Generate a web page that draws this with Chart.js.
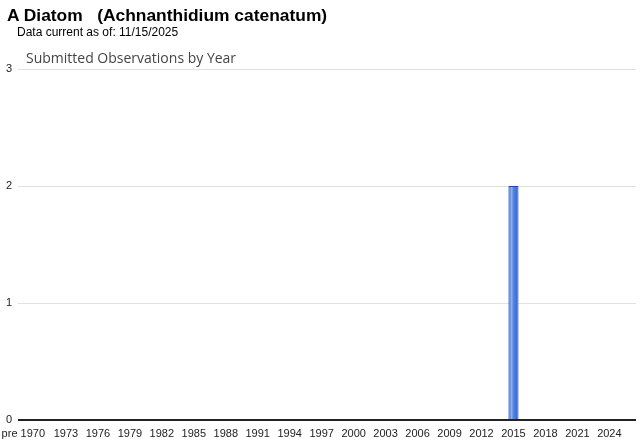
<!DOCTYPE html>
<html>
<head>
<meta charset="utf-8">
<script src="https://cdn.jsdelivr.net/npm/chart.js@4"></script>
<style>
  body { margin: 0; background: #fff; }
  #wrap { position: relative; width: 640px; height: 442px; }
  #chart { position: absolute; left: 0; top: 0; }
  .title { position: absolute; left: 7px; top: 5px; font: bold 17.4px "Liberation Sans", Arial, sans-serif; color: #000; white-space: pre; }
  .asof { position: absolute; left: 17px; top: 25px; font: 12px "Liberation Sans", Arial, sans-serif; color: #000; }
  .sub { position: absolute; left: 26px; top: 48px; font: 14px "Open Sans", "Noto Sans", sans-serif; color: #444; }
</style>
</head>
<body>
<div id="wrap">
  <canvas id="chart" width="640" height="442"></canvas>
  <div class="title">A Diatom   (Achnanthidium catenatum)</div>
  <div class="asof">Data current as of: 11/15/2025</div>
  <div class="sub">Submitted Observations by Year</div>
</div>
<script>
  // categories: "pre 1970" then one per year
  const years = ['pre 1970'];
  for (let y = 1970; y <= 2026; y++) years.push(String(y));

  // observations per year (only 2015 has any)
  const observed = { '2015': 2 };
  const counts = years.map(y => observed[y] || 0);

  const yTicks = [0, 1, 2, 3];

  const ctx = document.getElementById('chart').getContext('2d');

  // bar fill with a lighter stripe, like the original rendering
  function barFill(context) {
    const chart = context.chart;
    const xs = chart.scales.x;
    if (!xs || !xs.width) return '#3366cc';
    const cx = xs.getPixelForValue(context.dataIndex);
    const w = (xs.width / years.length) * 0.95;
    const x0 = cx - w / 2;
    const g = chart.ctx.createLinearGradient(x0, 0, x0 + w, 0);
    g.addColorStop(0, '#2b5fd3');
    g.addColorStop(0.3, '#8fb0ee');
    g.addColorStop(0.5, '#5585e0');
    g.addColorStop(1, '#2f62d2');
    return g;
  }

  new Chart(ctx, {
    type: 'bar',
    data: {
      labels: years,
      datasets: [{
        data: counts,
        backgroundColor: barFill,
        borderColor: '#1d48b4',
        borderWidth: 1,
        borderSkipped: 'bottom',
        barPercentage: 0.95,
        categoryPercentage: 1
      }]
    },
    options: {
      responsive: false,
      animation: false,
      layout: { autoPadding: false, padding: { top: 69, right: 4, bottom: 2, left: 0 } },
      plugins: {
        legend: { display: false },
        tooltip: { enabled: false }
      },
      scales: {
        x: {
          afterFit: axis => { axis.paddingLeft = 0; axis.paddingRight = 0; axis.height = 20; },
          grid: { display: false, drawTicks: false },
          border: { display: false },
          ticks: {
            autoSkip: false,
            maxRotation: 0,
            padding: 7,
            color: '#222',
            font: { family: 'Liberation Sans, Arial, sans-serif', size: 11 },
            callback: function (value, i) {
              if (i === 0) return years[i];
              if (i > 1 && (i - 1) % 3 === 0 && i < years.length - 1) return years[i];
              return '';
            }
          }
        },
        y: {
          min: 0,
          max: 3,
          afterBuildTicks: axis => { axis.ticks = yTicks.map(v => ({ value: v })); },
          afterFit: axis => { axis.width = 18; axis.paddingTop = 0; axis.paddingBottom = 0; },
          border: { display: false },
          grid: {
            drawTicks: false,
            color: c => c.tick && c.tick.value === 0 ? '#222' : '#e2e2e2',
            lineWidth: c => c.tick && c.tick.value === 0 ? 2 : 1
          },
          ticks: {
            padding: 6,
            color: '#222',
            font: { family: 'Liberation Sans, Arial, sans-serif', size: 11 }
          }
        }
      }
    }
  });
</script>
</body>
</html>
